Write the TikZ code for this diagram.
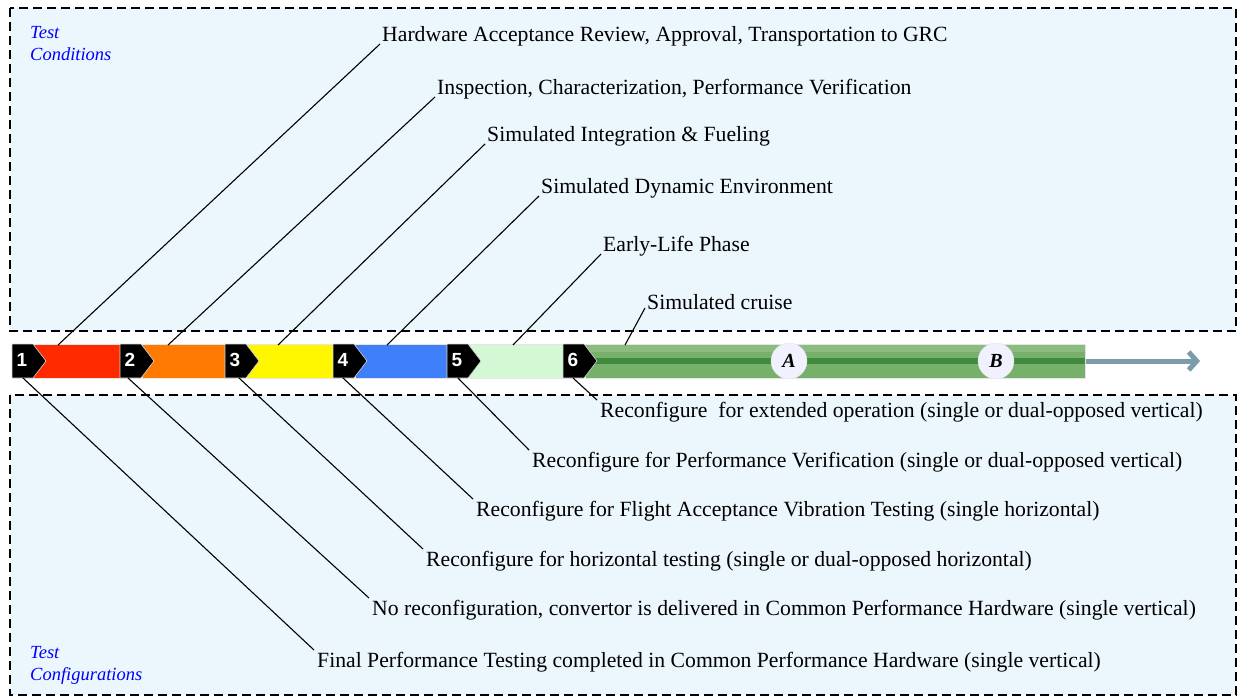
\documentclass[tikz,border=0pt]{standalone}
\usepackage{fontspec}
\setmainfont{Liberation Serif}
\newfontfamily\badgefont{Liberation Sans}
\usetikzlibrary{arrows.meta}
\begin{document}
\begin{tikzpicture}[x=1pt,y=-1pt,
  lbl/.style={inner sep=0pt,font=\fontsize{21.7}{24}\selectfont},
  lead/.style={line width=1.1pt,black},
  zone/.style={draw=black,line width=2pt,dash pattern=on 9pt off 5pt,fill=boxblue},
  zonelbl/.style={inner sep=0pt,anchor=north west,align=left,text=blue,font=\fontsize{18.5}{22}\selectfont\itshape},
  seg/.style={draw=white!80!gray,line width=0.6pt},
  badge/.style={fill=black,draw=white!70!gray,line width=0.6pt},
  num/.style={text=white,font=\badgefont\bfseries\fontsize{19}{19}\selectfont,inner sep=0pt},
  mile/.style={circle,fill=white!94!blue,draw=white!80!gray,minimum size=36pt,inner sep=0pt,font=\fontsize{20}{20}\selectfont\bfseries\itshape}
]
\definecolor{boxblue}{HTML}{EBF6FD}
\definecolor{sred}{HTML}{FF2A00}
\definecolor{sorange}{HTML}{FF7A00}
\definecolor{syellow}{HTML}{FFF700}
\definecolor{sblue}{HTML}{3F7FFA}
\definecolor{slgreen}{HTML}{D4F7D4}
\definecolor{sgreen}{HTML}{76B06A}
\definecolor{sdgreen}{HTML}{3F8A3C}
\definecolor{arrowc}{HTML}{7D9CAA}
\useasboundingbox (0,0) rectangle (1238,698);
\fill[white] (0,0) rectangle (1238,698);
% zones
\path[zone] (10,8) rectangle (1236,331);
\path[zone] (10,395) rectangle (1236,695);
\node[zonelbl] (tc) at (30,26) {Test\\Conditions};
\node[zonelbl] (tcf) at (30,646) {Test\\Configurations};
% arrow
\coordinate (arrs) at (1085,361);
\coordinate (arre) at (1200,361);
\draw[arrowc,line width=5pt,-{Straight Barb[length=8pt,width=18pt,line width=5pt]}] (arrs) -- (arre);
% segments
\path[seg,fill=sred] (32,344) rectangle (120,378);
\path[seg,fill=sorange] (142,344) rectangle (225,378);
\path[seg,fill=syellow] (247,344) rectangle (333,378);
\path[seg,fill=sblue] (355,344) rectangle (447,378);
\path[seg,fill=slgreen] (469,344) rectangle (563,378);
\path[seg,fill=sgreen] (585,344) rectangle (1085,378);
\fill[sgreen!85!white] (585,345) rectangle (1085,352);
\fill[sdgreen] (585,358) rectangle (1085,364);
% milestones
\node[mile] (mA) at (789,361) {A};
\node[mile] (mB) at (996,361) {B};
% badges
\foreach \i/\x in {1/12,2/120,3/225,4/333,5/447,6/563}{
  \path[badge] (\x,344) -- (\x+21,344) -- (\x+34,361) -- (\x+21,378) -- (\x,378) -- cycle;
  \node[num] (b\i) at (\x+10,360) {\i};
}
% anchor points on bar
\foreach \i/\x in {1/58,2/168,3/278,4/387,5/513,6/625}{
  \coordinate (u\i) at (\x,345);
}
\foreach \i/\x in {1/23,2/128,3/239,4/343,5/458,6/573}{
  \coordinate (d\i) at (\x,378);
}
% top labels
\node[lbl,anchor=south west] (t1) at (382,46) {Hardware Acceptance Review, Approval, Transportation to GRC};
\node[lbl,anchor=south west] (t2) at (437,99) {Inspection, Characterization, Performance Verification};
\node[lbl,anchor=south west] (t3) at (487,146) {Simulated Integration \& Fueling};
\node[lbl,anchor=south west] (t4) at (541,198) {Simulated Dynamic Environment};
\node[lbl,anchor=south west] (t5) at (603,256) {Early-Life Phase};
\node[lbl,anchor=south west] (t6) at (647,310) {Simulated cruise};
% bottom labels
\node[lbl,anchor=north west] (c6) at (600,402) {Reconfigure\ \ for extended operation (single or dual-opposed vertical)};
\node[lbl,anchor=north west] (c5) at (532,452) {Reconfigure for Performance Verification (single or dual-opposed vertical)};
\node[lbl,anchor=north west] (c4) at (476,501) {Reconfigure for Flight Acceptance Vibration Testing (single horizontal)};
\node[lbl,anchor=north west] (c3) at (426,551) {Reconfigure for horizontal testing (single or dual-opposed horizontal)};
\node[lbl,anchor=north west] (c2) at (372,600) {No reconfiguration, convertor is delivered in Common Performance Hardware (single vertical)};
\node[lbl,anchor=north west] (c1) at (317,652) {Final Performance Testing completed in Common Performance Hardware (single vertical)};
% leaders
\foreach \i in {1,...,6}{
  \draw[lead] (u\i) -- ([xshift=-2pt,yshift=2pt]t\i.south west);
  \draw[lead] (d\i) -- ([xshift=-3pt,yshift=2pt]c\i.north west);
}
\end{tikzpicture}
\end{document}
